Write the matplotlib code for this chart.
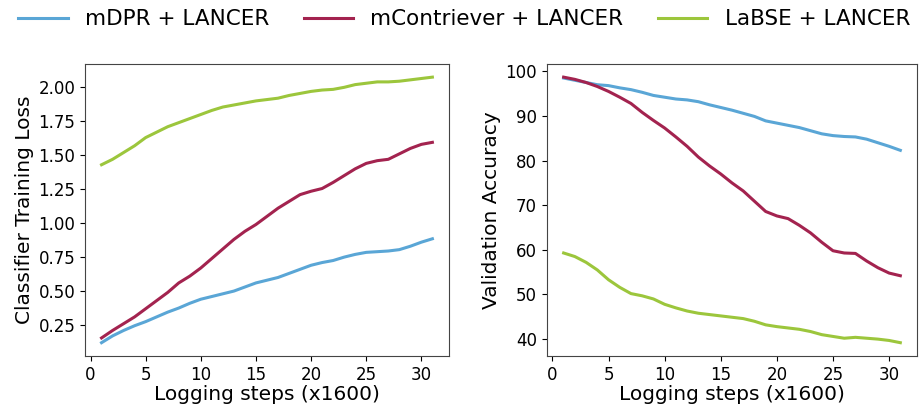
import matplotlib
matplotlib.use("Agg")
import matplotlib.pyplot as plt
import numpy as np

steps = np.arange(1, 32)
labels = ["mDPR + LANCER", "mContriever + LANCER", "LaBSE + LANCER"]
colors = ["#5aa6d6", "#a3234f", "#9cc63c"]

# classifier training loss
loss_mdpr = [0.12, 0.17, 0.21, 0.245, 0.275, 0.31, 0.345, 0.375, 0.41, 0.44,
             0.46, 0.48, 0.50, 0.53, 0.56, 0.58, 0.60, 0.63, 0.66, 0.69,
             0.71, 0.725, 0.75, 0.77, 0.785, 0.79, 0.795, 0.805, 0.83, 0.86, 0.885]
loss_mcont = [0.155, 0.21, 0.26, 0.31, 0.37, 0.43, 0.49, 0.56, 0.61, 0.67,
              0.74, 0.81, 0.88, 0.94, 0.99, 1.05, 1.11, 1.16, 1.21, 1.235,
              1.255, 1.30, 1.35, 1.40, 1.44, 1.46, 1.47, 1.51, 1.55, 1.58, 1.595]
loss_labse = [1.43, 1.47, 1.52, 1.57, 1.63, 1.67, 1.71, 1.74, 1.77, 1.80,
              1.83, 1.855, 1.87, 1.885, 1.90, 1.91, 1.92, 1.94, 1.955, 1.97,
              1.98, 1.985, 2.00, 2.02, 2.03, 2.04, 2.04, 2.045, 2.055, 2.065, 2.075]

# validation accuracy
acc_mdpr = [98.5, 98.0, 97.5, 97.0, 96.8, 96.3, 95.9, 95.3, 94.6, 94.2,
            93.8, 93.6, 93.2, 92.5, 91.9, 91.3, 90.6, 89.9, 88.9, 88.4,
            87.9, 87.4, 86.7, 86.0, 85.6, 85.4, 85.3, 84.8, 84.0, 83.2, 82.3]
acc_mcont = [98.7, 98.2, 97.5, 96.6, 95.5, 94.2, 92.8, 90.8, 89.0, 87.3,
             85.3, 83.2, 80.8, 78.8, 77.0, 75.0, 73.2, 70.9, 68.6, 67.6,
             67.0, 65.5, 63.8, 61.7, 59.8, 59.3, 59.2, 57.5, 56.0, 54.8, 54.2]
acc_labse = [59.3, 58.5, 57.2, 55.5, 53.3, 51.6, 50.2, 49.7, 49.0, 47.8,
             47.0, 46.3, 45.8, 45.5, 45.2, 44.9, 44.6, 44.0, 43.2, 42.8,
             42.5, 42.2, 41.7, 41.0, 40.6, 40.2, 40.4, 40.2, 40.0, 39.7, 39.2]

fig = plt.figure(figsize=(9.19, 4.12), dpi=100)
ax1 = fig.add_axes([0.0925, 0.136, 0.396, 0.709])
ax2 = fig.add_axes([0.595, 0.136, 0.403, 0.709])

for ys, c, lab in zip([loss_mdpr, loss_mcont, loss_labse], colors, labels):
    ax1.plot(steps, ys, color=c, linewidth=2.2, label=lab)
for ys, c in zip([acc_mdpr, acc_mcont, acc_labse], colors):
    ax2.plot(steps, ys, color=c, linewidth=2.2)

ax1.set_ylabel("Classifier Training Loss", fontsize=14.5, labelpad=3)
ax2.set_ylabel("Validation Accuracy", fontsize=14.5, labelpad=3)
for ax in (ax1, ax2):
    ax.set_xlabel("Logging steps (x1600)", fontsize=14.5, labelpad=1)
    ax.set_xticks([0, 5, 10, 15, 20, 25, 30])
    ax.tick_params(labelsize=12)
    for s in ax.spines.values():
        s.set_color("#444444")

ax1.set_yticks([0.25, 0.5, 0.75, 1.0, 1.25, 1.5, 1.75, 2.0])
ax2.set_yticks([40, 50, 60, 70, 80, 90, 100])

fig.legend(loc="upper center", bbox_to_anchor=(0.505, 1.025), ncol=3, frameon=False,
           fontsize=15.5, handlelength=2.3, columnspacing=1.6)

fig.savefig("out.png", dpi=100)
